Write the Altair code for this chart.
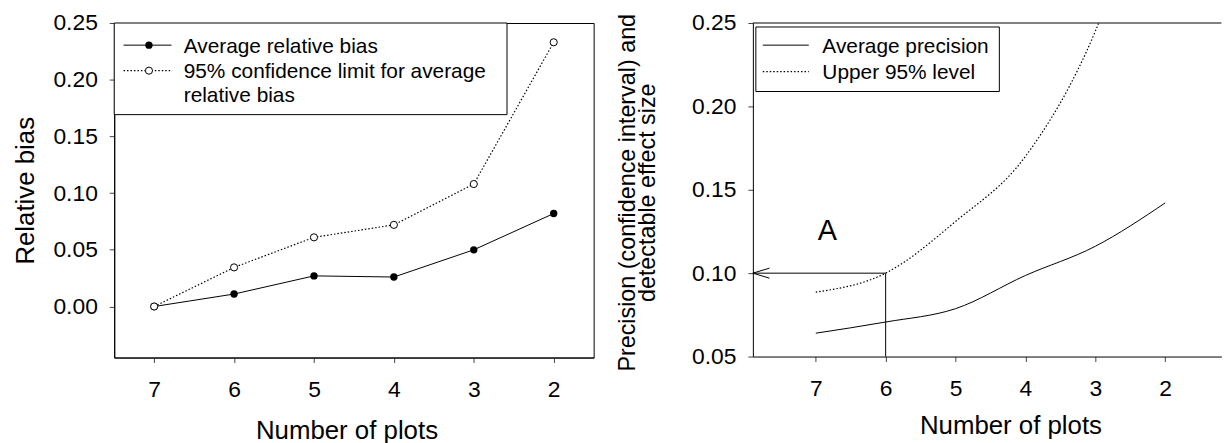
import altair as alt
import pandas as pd

# ---------------- data ----------------
plots = [7, 6, 5, 4, 3, 2]
avg_bias = [0.000, 0.011, 0.027, 0.026, 0.050, 0.082]
ci_bias = [0.000, 0.0345, 0.061, 0.072, 0.108, 0.233]
bias_labels = ["Average relative bias",
               "95% confidence limit for average\nrelative bias"]

avg_precision = [0.064, 0.0707, 0.0787, 0.0986, 0.1161, 0.1421]
upper_level = [0.0886, 0.100, 0.131, 0.170, 0.245, 0.37]
precision_labels = ["Average precision", "Upper 95% level"]

# annotation: detectable effect 0.10 reached with 6 plots
lead_x = [6, 7.9]
lead_y = [0.10, 0.10]
drop_x = [6, 6]
drop_y = [0.05, 0.10]
head_x = [7.663, 7.9, 7.663]
head_y = [0.103, 0.10, 0.097]
mark_label = ["A"]
mark_label_x = [6.835]
mark_label_y = [0.125]

left_y_ticks = [0.0, 0.05, 0.10, 0.15, 0.20, 0.25]
right_y_ticks = [0.05, 0.10, 0.15, 0.20, 0.25]

FONT = "Liberation Sans"
LW, LH = 483, 337
RW, RH = 472, 336
DOT = [1.5, 2]

bias_avg_df = pd.DataFrame({"plots": plots, "value": avg_bias})
bias_ci_df = pd.DataFrame({"plots": plots, "value": ci_bias})
prec_avg_df = pd.DataFrame({"plots": plots, "value": avg_precision})
prec_up_df = pd.DataFrame({"plots": plots, "value": upper_level})
one = pd.DataFrame({"k": [0]})

# ---------------- left panel ----------------
xl = alt.X("plots:Q",
           scale=alt.Scale(domain=[1.5, 7.5], reverse=True, nice=False, zero=False),
           axis=alt.Axis(values=plots, format="d", title="Number of plots",
                         titleX=234, titleY=82, titleBaseline="alphabetic",
                         titleAlign="center", labelPadding=16))
yl = alt.Y("value:Q",
           scale=alt.Scale(domain=[-0.045, 0.25], nice=False, zero=False),
           axis=alt.Axis(values=left_y_ticks, format=".2f", title="Relative bias",
                         titleX=-89, titleY=LH / 2, titleBaseline="middle",
                         titleAlign="center", labelPadding=12))

ci_line = alt.Chart(bias_ci_df).mark_line(color="black", strokeWidth=1.2,
                                          strokeDash=DOT).encode(x=xl, y=yl)
avg_line = alt.Chart(bias_avg_df).mark_line(color="black", strokeWidth=1).encode(x=xl, y=yl)
avg_pts = alt.Chart(bias_avg_df).mark_point(shape="circle", filled=True, color="black",
                                            size=55, opacity=1).encode(x=xl, y=yl)
ci_pts = alt.Chart(bias_ci_df).mark_point(shape="circle", filled=True, fill="white",
                                          stroke="black", strokeWidth=1, size=52,
                                          opacity=1).encode(x=xl, y=yl)

lbox = alt.Chart(one).mark_rect(fill="white", stroke="black", strokeWidth=1).encode(
    x=alt.value(0), x2=alt.value(395.7), y=alt.value(0), y2=alt.value(92.3))
l_s1 = alt.Chart(one).mark_rule(color="black", strokeWidth=1).encode(
    x=alt.value(9.4), x2=alt.value(57.7), y=alt.value(22.3))
l_p1 = alt.Chart(one).mark_point(shape="circle", filled=True, color="black",
                                 size=55, opacity=1).encode(x=alt.value(35), y=alt.value(22.3))
l_s2 = alt.Chart(one).mark_rule(color="black", strokeWidth=1.2, strokeDash=DOT).encode(
    x=alt.value(9.4), x2=alt.value(57.7), y=alt.value(48))
l_p2 = alt.Chart(one).mark_point(shape="circle", filled=True, fill="white", stroke="black",
                                 strokeWidth=1, size=52, opacity=1).encode(
    x=alt.value(35), y=alt.value(48))
l_t1 = alt.Chart(one).mark_text(text=bias_labels[0], align="left", baseline="alphabetic",
                                fontSize=21, font=FONT, color="black").encode(
    x=alt.value(70), y=alt.value(29.8))
l_t2 = alt.Chart(one).mark_text(text=bias_labels[1], align="left", baseline="alphabetic",
                                fontSize=21, font=FONT, color="black", lineBreak="\n",
                                lineHeight=23.7).encode(
    x=alt.value(70), y=alt.value(55.5))

left = alt.layer(ci_line, avg_line, avg_pts, ci_pts,
                 lbox, l_s1, l_p1, l_s2, l_p2, l_t1, l_t2).properties(
    width=LW, height=LH,
    view=alt.ViewBackground(stroke="black", strokeWidth=1))

# ---------------- right panel ----------------
xr = alt.X("plots:Q",
           scale=alt.Scale(domain=[1.195, 7.9], reverse=True, nice=False, zero=False),
           axis=alt.Axis(values=plots, format="d", title="Number of plots",
                         titleX=259.5, titleY=78, titleBaseline="alphabetic",
                         titleAlign="center", labelPadding=16))
yr = alt.Y("value:Q",
           scale=alt.Scale(domain=[0.05, 0.25], nice=False, zero=False),
           axis=alt.Axis(values=right_y_ticks, format=".2f",
                         title=["Precision (confidence interval) and", "detectable effect size"],
                         titleX=-126, titleY=170.5, titleBaseline="middle",
                         titleAlign="center", titleFontSize=23.5, titleLineHeight=20,
                         labelPadding=12))

prec_avg = alt.Chart(prec_avg_df).mark_line(color="black", strokeWidth=1,
                                            interpolate="monotone").encode(x=xr, y=yr)
prec_up = alt.Chart(prec_up_df).mark_line(color="black", strokeWidth=1.2, strokeDash=DOT,
                                          interpolate="monotone", clip=True).encode(x=xr, y=yr)

lead = alt.Chart(pd.DataFrame({"plots": lead_x, "value": lead_y})).mark_line(
    color="black", strokeWidth=1).encode(x=xr, y=yr)
drop = alt.Chart(pd.DataFrame({"plots": drop_x, "value": drop_y})).mark_line(
    color="black", strokeWidth=1).encode(x=xr, y=yr)
head = alt.Chart(pd.DataFrame({"plots": head_x, "value": head_y,
                               "o": [0, 1, 2]})).mark_line(
    color="black", strokeWidth=1).encode(x=xr, y=yr, order="o:Q")
a_lab = alt.Chart(pd.DataFrame({"plots": mark_label_x, "value": mark_label_y,
                                "t": mark_label})).mark_text(
    fontSize=29, font=FONT, color="black", baseline="middle", align="center").encode(
    x=xr, y=yr, text="t:N")

top_rule = alt.Chart(one).mark_rule(color="black", strokeWidth=1).encode(
    x=alt.value(0), x2=alt.value(RW), y=alt.value(0))

rbox = alt.Chart(one).mark_rect(fill="white", stroke="black", strokeWidth=1).encode(
    x=alt.value(3), x2=alt.value(248.3), y=alt.value(4), y2=alt.value(69))
r_s1 = alt.Chart(one).mark_rule(color="black", strokeWidth=1).encode(
    x=alt.value(10), x2=alt.value(56.3), y=alt.value(22.3))
r_s2 = alt.Chart(one).mark_rule(color="black", strokeWidth=1.2, strokeDash=DOT).encode(
    x=alt.value(10), x2=alt.value(56.3), y=alt.value(49))
r_t1 = alt.Chart(one).mark_text(text=precision_labels[0], align="left", baseline="alphabetic",
                                fontSize=21, font=FONT, color="black").encode(
    x=alt.value(70), y=alt.value(29.8))
r_t2 = alt.Chart(one).mark_text(text=precision_labels[1], align="left", baseline="alphabetic",
                                fontSize=21, font=FONT, color="black").encode(
    x=alt.value(70), y=alt.value(56.5))

right = alt.layer(prec_up, prec_avg, lead, drop, head, a_lab, top_rule,
                  rbox, r_s1, r_s2, r_t1, r_t2).properties(
    width=RW, height=RH,
    view=alt.ViewBackground(strokeOpacity=0))

chart = alt.hconcat(left, right, spacing=20.4).properties(
    padding={"left": 4, "top": 1.5, "right": 0, "bottom": 0}
).configure(font=FONT).configure_axis(
    domainColor="black", domainWidth=1, tickColor="#444", tickSize=5, tickWidth=1,
    labelFontSize=23, labelColor="black", labelFont=FONT,
    titleFontSize=26, titleColor="black", titleFont=FONT, titleFontWeight="normal",
    grid=False
)

chart.save("out.html", embed_options={"renderer": "svg", "actions": False})
